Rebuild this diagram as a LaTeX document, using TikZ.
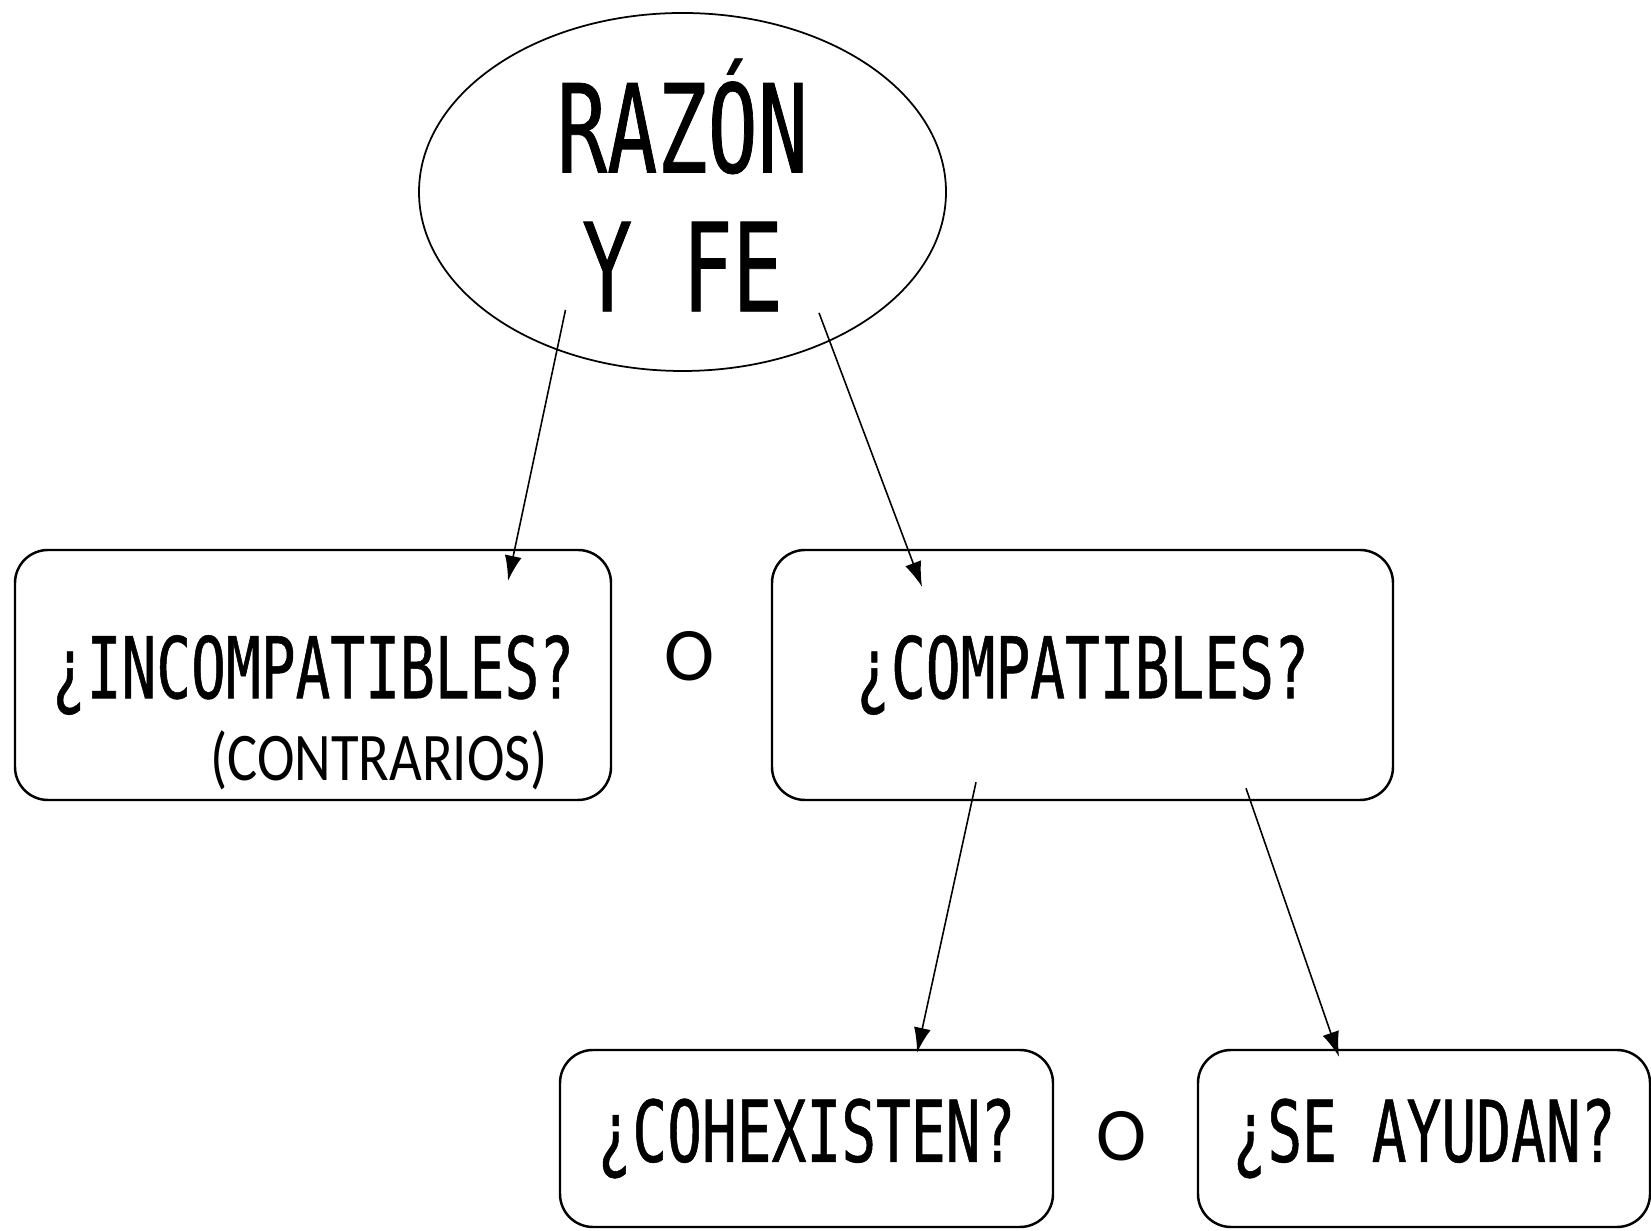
\documentclass[tikz,border=0pt]{standalone}
\usepackage{fontspec}
\usepackage{tikz}
\usetikzlibrary{shapes, arrows.meta, positioning, calc}
\newfontfamily\gothfont[FakeStretch=0.68, FakeBold=0.6]{DejaVu Sans Mono}
\newfontfamily\calfont{Carlito}
\newfontfamily\calnarrow[FakeStretch=0.83]{Carlito}

\begin{document}
\begin{tikzpicture}[>={Latex[length=0.25cm, width=0.17cm]},
		caja/.style={draw, line width=0.7pt, rounded corners=0.33cm, inner sep=0pt,
			font=\gothfont\fontsize{24.2}{29}\selectfont},
		flecha/.style={->, line width=0.45pt},
		conj/.style={font=\calfont\fontsize{21.5}{25}\selectfont}]
			\useasboundingbox (0,0) rectangle (16.51,-12.31);
			% top: the ellipse and its title
			\node[draw, ellipse, line width=0.5pt, minimum width=5.27cm, minimum height=3.58cm,
			inner sep=0pt] (razon) at (6.825,-1.92) {};
			\node[align=center, font=\gothfont\fontsize{34.9}{39.5}\selectfont]
			(titulo) at (6.825,-1.85) {RAZÓN\\Y FE};
			% first level
			\node[caja, minimum width=5.96cm, minimum height=2.50cm] (inc) at (3.13,-6.75)
			{¿INCOMPATIBLES?};
			\node[anchor=base, font=\calnarrow\fontsize{19.4}{23}\selectfont] (contr)
			at (3.79,-7.81) {(CONTRARIOS)};
			\node[conj] (o1) at (6.90,-6.56) {O};
			\node[caja, minimum width=6.21cm, minimum height=2.50cm] (comp) at (10.825,-6.75)
			{¿COMPATIBLES?};
			% second level
			\node[caja, minimum width=4.93cm, minimum height=1.77cm] (coh) at (8.065,-11.385)
			{¿COHEXISTEN?};
			\node[conj] (o2) at (11.22,-11.36) {O};
			\node[caja, minimum width=4.52cm, minimum height=1.77cm] (ayu) at (14.24,-11.385)
			{¿SE AYUDAN?};
			% arrows, starting and ending inside the shapes
			\draw[flecha] ([xshift=-1.17cm, yshift=0.62cm]razon.south)
			-- ([xshift=1.95cm, yshift=-0.32cm]inc.north);
			\draw[flecha] ([xshift=1.365cm, yshift=0.59cm]razon.south)
			-- ([xshift=-1.605cm, yshift=-0.38cm]comp.north);
			\draw[flecha] ([xshift=-1.065cm, yshift=0.19cm]comp.south)
			-- ([xshift=1.105cm, yshift=-0.04cm]coh.north);
			\draw[flecha] ([xshift=1.635cm, yshift=0.13cm]comp.south)
			-- ([xshift=-0.85cm, yshift=-0.08cm]ayu.north);
		\end{tikzpicture}
\end{document}
